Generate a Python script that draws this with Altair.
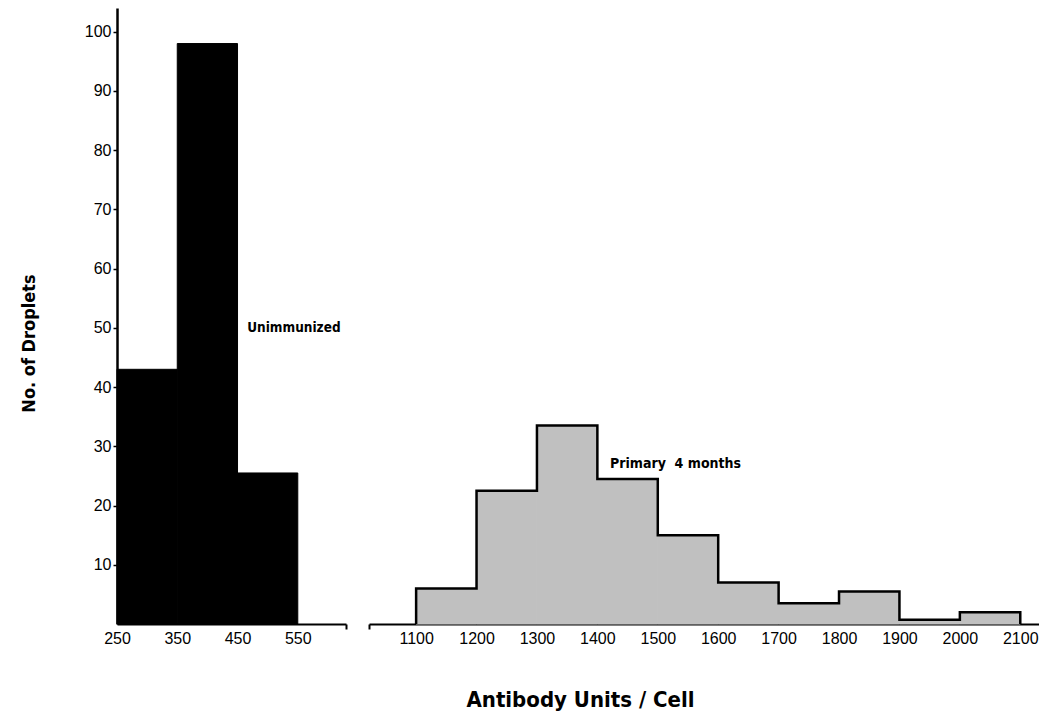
import altair as alt
import pandas as pd

# ---- data ----
left_start = [250, 350, 450]
left_end = [350, 450, 550]
left_count = [43, 98, 25.5]

right_start = [1100, 1200, 1300, 1400, 1500, 1600, 1700, 1800, 1900, 2000]
right_end = [1200, 1300, 1400, 1500, 1600, 1700, 1800, 1900, 2000, 2100]
right_count = [6, 22.5, 33.5, 24.5, 15, 7, 3.5, 5.5, 0.7, 2]

left_ticks = [250, 350, 450, 550]
right_ticks = [1100, 1200, 1300, 1400, 1500, 1600, 1700, 1800, 1900, 2000, 2100]
y_ticks = [10, 20, 30, 40, 50, 60, 70, 80, 90, 100]

left_domain = [250, 630]
right_domain = [1022, 2131]
y_domain = [0, 104]

label_left = ["Unimmunized"]
label_left_x = [466]
label_left_y = [50]
label_right = ["Primary\u00a0\u00a04\u00a0months"]
label_right_x = [1421]
label_right_y = [27]

NUM_FONT = "Liberation Sans"
BOLD_FONT = "DejaVu Sans Condensed"

left_df = pd.DataFrame({"start": left_start, "end": left_end,
                        "count": left_count, "zero": [0] * len(left_start)})
right_df = pd.DataFrame({"start": right_start, "end": right_end,
                         "count": right_count, "zero": [0] * len(right_start)})

# outline of the stepped histogram (built from the same arrays)
ox = [right_start[0]] + right_start + [right_end[-1], right_end[-1]]
oy = [0] + right_count + [right_count[-1], 0]
outline_df = pd.DataFrame({"x": ox, "y": oy, "i": list(range(len(ox)))})

yscale = alt.Scale(domain=y_domain, nice=False, zero=False)


def x_axis(values, cap):
    return alt.Axis(
        values=values, format="d",
        labelExpr=f"datum.value == {cap} ? '' : datum.label",
        title=None, grid=False, labelFlush=False, labelOverlap=False,
        tickSize=5, tickWidth=2, tickColor="black",
        tickOpacity={"condition": {"test": f"datum.value == {cap}", "value": 1}, "value": 0},
        domainColor="black", domainWidth=2,
        labelFont=NUM_FONT, labelFontSize=16, labelColor="black", labelPadding=1,
    )


y_axis = alt.Axis(
    values=y_ticks, title="No. of Droplets", grid=False,
    tickSize=4, tickWidth=1.5, tickColor="black", labelPadding=2,
    domainColor="black", domainWidth=2.5,
    labelFont=NUM_FONT, labelFontSize=16, labelColor="black",
    titleFont=BOLD_FONT, titleFontSize=18, titleFontWeight="bold", titleColor="black",
    titleAngle=270, titleX=-88, titleY=335, titleAlign="center", titleBaseline="middle",
)

left_bars = alt.Chart(left_df).mark_rect(color="black", stroke="black", strokeWidth=1).encode(
    x=alt.X("start:Q", scale=alt.Scale(domain=left_domain, nice=False, zero=False),
            axis=x_axis(left_ticks + [left_domain[1]], left_domain[1])),
    x2="end:Q",
    y=alt.Y("count:Q", scale=yscale, axis=y_axis),
    y2="zero:Q",
)
left_text = alt.Chart(pd.DataFrame({"t": label_left, "x": label_left_x, "y": label_left_y})).mark_text(
    align="left", baseline="middle", font=BOLD_FONT, fontSize=13.5, fontWeight="bold", color="black"
).encode(x="x:Q", y="y:Q", text="t:N")

left = alt.layer(left_bars, left_text).properties(width=229, height=616)

right_bars = alt.Chart(right_df).mark_rect(color="#c0c0c0", stroke="#c0c0c0", strokeWidth=1).encode(
    x=alt.X("start:Q", scale=alt.Scale(domain=right_domain, nice=False, zero=False),
            axis=x_axis([right_domain[0]] + right_ticks, right_domain[0])),
    x2="end:Q",
    y=alt.Y("count:Q", scale=yscale, axis=None),
    y2="zero:Q",
)
right_outline = alt.Chart(outline_df).mark_line(
    interpolate="step-after", color="black", strokeWidth=2.5
).encode(x="x:Q", y="y:Q", order="i:Q")
right_text = alt.Chart(pd.DataFrame({"t": label_right, "x": label_right_x, "y": label_right_y})).mark_text(
    align="left", baseline="middle", font=BOLD_FONT, fontSize=14, fontWeight="bold", color="black"
).encode(x="x:Q", y="y:Q", text="t:N")

right = alt.layer(right_bars, right_outline, right_text).properties(width=670, height=616)

chart = alt.hconcat(left, right, spacing=23, bounds="flush").properties(
    padding={"left": 12, "top": 0, "right": 0, "bottom": 0},
    background="white",
    title=alt.TitleParams(
        text="Antibody Units / Cell", orient="bottom", anchor="middle",
        font=BOLD_FONT, fontSize=22, fontWeight="bold", color="black",
        offset=44, dx=51,
    ),
).configure_view(strokeWidth=0, stroke="transparent")

chart.save("out.html", embed_options={"renderer": "svg", "actions": False})
